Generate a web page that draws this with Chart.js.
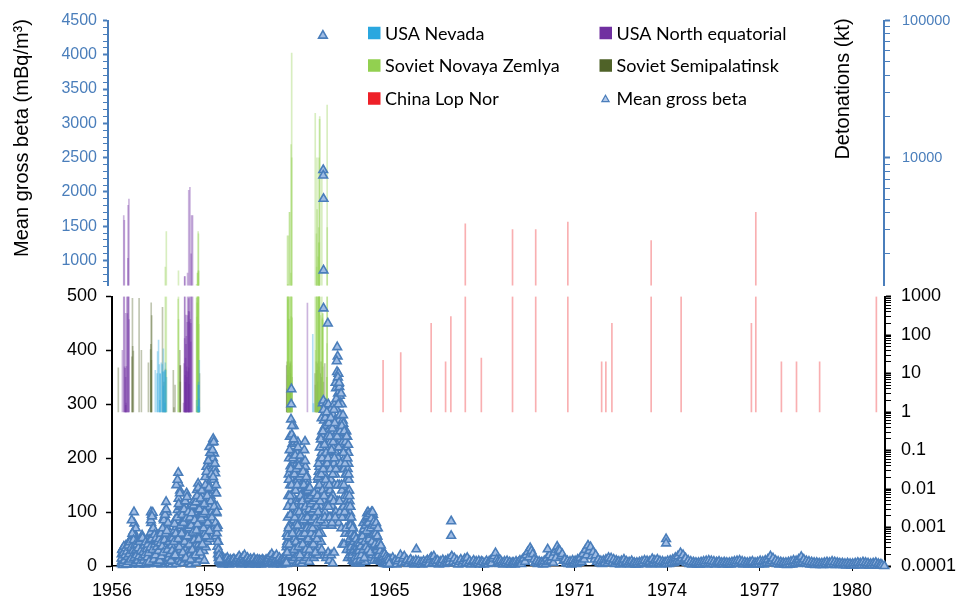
<!DOCTYPE html>
<html>
<head>
<meta charset="utf-8">
<script src="https://cdn.jsdelivr.net/npm/chart.js@4/dist/chart.umd.min.js"></script>
<style>
  html, body { margin: 0; padding: 0; background: #fff; }
  #wrap { position: relative; width: 958px; height: 598px; overflow: hidden; }
  canvas { position: absolute; left: 0; }
  #upper { top: 0; }
  #lower { top: 280px; }
</style>
</head>
<body>
<div id="wrap">
  <canvas id="upper" width="958" height="292"></canvas>
  <canvas id="lower" width="958" height="318"></canvas>
</div>
<script>
// ---------- Mean gross beta (mBq/m3); samples spread evenly through each block ----------
const beta1956 = [4,22,9,31,15,2,27,12,35,7,19,29,5, 25,11,38,3,20,33,8,16,40,13,28,6,23,
  18,44,7,30,12,50,24,3,38,15,46,10,27, 35,64,14,100,79,42,8,55,25,70,18,45,30,
  12,38,5,26,45,16,33,3,21,40,9,29,14, 35,8,50,22,57,15,42];
const beta1957 = [18,42,6,30,13,45,24,3,36,10,27,40,15, 8,33,20,48,4,26,38,12,44,17,29,7,35,
  62,100,80,25,95,45,10,99,70,30,55,15,40, 22,52,8,38,60,15,30,45,4,26,55,12,35,
  48,18,58,6,34,25,52,10,40,20,60,3,30, 44,14,65,28,88,7,50,100,35,72,18,58,24,
  119,73,40,100,12,58,30,8,47,22,55,36,5, 28,50,10,38,20,55,3,33,44,15,25,40,8];
const beta1958 = [30,65,10,48,85,22,55,4,38,72,16,60,26, 104,40,173,125,12,153,85,60,140,30,110,8,70,
  95,20,60,110,38,80,5,50,100,28,70,15,45, 88,30,119,55,135,12,96,70,25,104,45,8,75,
  65,20,100,42,80,3,58,105,30,72,14,50,90, 36,95,10,72,122,48,85,22,110,60,6,40,100,
  141,60,118,25,153,90,40,130,12,75,105,35,65, 120,50,95,18,130,70,38,110,85,28,100,55,10];
const beta1959a = [120,60,165,90,35,140,184,75,110,45,150,95,130, 196,80,150,221,110,50,175,130,205,65,160,100,190,
  229,120,200,236,160,70,209,140,180,100,172,135,55, 135,98,61,110,36,75,22,45,15,28,10,18,8];
const beta1959b = [12,5,9,14,3,8,11,6,13,4,9,7,15,5,10,3,8,12,6,9,4,11,7,13,5,8];
const beta1960 = [6,11,4,9,14,7,18,5,10,13,3,8,16,6,11,20,9,4,12,7,15,5,10,3,8,13,
  6,9,4,11,7,14,5,9,3,10,6,12,4,8,11,5,9,3,7,12,6,10,4,8,5,11];
const beta1961a = [7,12,4,9,14,6,18,10,5,22,8,13,3,16,9,6,11,20,7,4,12,8,15,5,10,3,9,13,6,11,4,8,14,6];
const beta1961b = [10,35,4,60,20,45,8,28, 90,15,130,55,170,5,200,75,110,35,240,150,20,185,60,120,
  272,95,328,40,244,160,10,227,130,70,209,190,25,150,260,85, 196,50,140,230,15,175,100,60,210,30,155,120,5,190,80];
const beta1962 = [210,45,160,95,230,20,180,120,65,200,140,8,110, 60,196,140,15,175,85,30,150,110,190,50,125,5,
  35,190,150,70,165,125,10,105,180,55,140,85,25, 100,231,55,184,140,25,170,90,15,130,160,45,75,
  150,40,130,75,110,20,145,65,95,8,120,55,135, 65,120,90,140,35,105,135,50,45,80,125,40,100,
  115,80,25,125,100,60,130,15,90,45,110,70,35, 95,120,45,110,70,135,30,100,60,140,20,85,125,
  140,55,160,90,20,175,120,150,80,184,35,130,105, 200,160,110,240,45,175,60,274,210,130,250,90,190,
  302,240,150,307,75,200,270,120,230,20,170,260,100, 80,260,180,300,15,220,150,280,110,240,20,195,135];
const beta1963 = [250,25,300,180,90,270,120,210,10,160,285,140,230, 90,290,160,20,260,200,75,240,130,280,110,5,220,
  130,280,80,250,190,25,300,150,230,100,270,170,210, 270,100,330,210,85,290,180,360,406,250,389,120,320,
  200,357,80,338,270,150,332,230,316,100,302,180,260, 280,190,260,70,240,300,140,220,40,180,270,110,210,
  264,110,246,180,40,233,200,130,90,220,60,170,250, 220,90,250,160,30,200,120,240,70,180,15,140,210,
  190,100,160,60,140,20,120,80,98,45,110,30,70, 80,40,65,15,55,75,25,50,10,60,35,70,20,
  60,20,45,8,55,30,40,12,50,25,35,5,42, 40,15,50,25,8,45,30,12,38,20,48,5,28];
const beta1964 = [35,10,50,22,5,45,28,15,40,8,30,48,18, 55,20,80,38,12,65,30,72,8,48,25,60,42,
  85,40,98,60,20,100,70,35,90,50,15,78,62, 90,55,75,30,100,45,85,20,65,95,38,70,10,
  85,50,65,25,78,40,60,20,70,35,55,12,45, 45,15,38,25,10,30,20,40,12,35,8,28,18,
  25,8,18,12,5,15,22,10,6,20,14,4,16, 12,5,9,4,14,7,11,3,10,6,13,5,8];
const beta1965 = [12,4,15,7,10,3,9,13,20,6,14,18,8,11,4,9,12,5,8,3,10,6,9,4];
const beta1966 = [7,3,9,5,8,11,4,12,16,6,18,9,5,10,3,8,6,11,4,9,5,12,7,14];
const beta1967 = [18,8,14,5,10,3,8,12,4,9,13,6,15,5,9,3,7,10,4,8,5,9,3,8];
const beta1968 = [7,3,6,9,4,8,10,5,14,18,24,12,8,4,10,6,3,8,5,9,4,7,3,6];
const beta1969 = [6,3,8,5,7,10,4,12,14,8,20,26,16,33,28,22,12,6,9,4,8,5,7,3];
const beta1970 = [9,4,14,8,20,10,16,6,25,15,36,30,28,18,22,10,12,5,9,4,8,3,10,6];
const beta1971 = [9,4,12,6,15,8,22,12,30,20,38,28,35,18,26,12,20,8,12,5,9,4,10,6];
const beta1972 = [12,5,15,9,14,6,12,4,10,7,8,3,9,5,12,6,8,4,7,3,9,5,6,3];
const beta1973 = [6,3,7,4,8,5,10,4,9,6,8,3,13,6,10,4,12,6,9,3,8,5,7,4];
const beta1974 = [9,4,10,5,12,6,15,8,18,10,24,14,20,12,14,6,10,4,8,3,7,4,6,3];
const beta1975 = [6,3,7,4,8,5,9,3,10,5,9,4,8,3,7,5,8,4,6,3,7,4,6,3];
const beta1976 = [6,3,7,4,8,5,9,4,10,5,8,3,7,4,6,3,7,5,8,3,6,4,7,3];
const beta1977 = [9,4,8,3,10,5,12,6,18,9,14,6,10,4,8,3,7,4,6,3,6,2,7,3];
const beta1978 = [8,3,10,5,9,4,12,6,17,8,12,5,9,4,8,3,7,3,6,2,6,3,5,2];
const beta1979 = [5,2,6,3,7,3,6,2,8,3,7,2,6,3,5,2,5,2,4,1,5,2,4,1];
const beta1980 = [4,1,5,2,6,2,5,1,7,2,6,2,5,1,4,1,5,2,6,1,4,1,3,1];
// additional readings taken in the busy periods
const beta1956x = [14,30,6,24,36,10,20,33,3,27,17,38,8, 22,44,12,34,85,60,28,48,15,38,6,30,20,
  40,10,33,18,45,5,28,50,16,52];
const beta1957x = [26,10,38,20,44,5,31,16,40,24,8,48,34, 85,50,92,30,70,12,58,40,20,52,35,6,45,
  28,50,10,42,60,18,36,70,25,85,48,95,60, 105,65,30,80,15,45,22,50,10,38,28,52,18];
const beta1958x = [45,78,20,60,150,90,160,50,115,35,135,75,100, 60,95,25,80,105,45,120,15,88,128,55,100,70,
  40,90,12,75,98,30,62,112,48,85,20,118,66, 130,78,145,50,105,25,125,88,140,40,96,70,115];
const beta1959x = [100,150,55,175,130,80,195,145,65,210,120,170,90, 215,165,230,110,190,80,150,100,70,45,30,20,12];
const beta1961x = [6,40,25,55,110,70,160,40,215,130,95,180,300,150,260,60,200,110,235,30,170,90,205,140,45,180,100];
const beta1962x = [150,75,220,35,185,100,165,20,205,130,55,170,90, 120,40,175,85,150,215,60,195,110,30,165,140,70,
  90,140,50,125,105,30,145,70,115,60,130,85,100, 70,120,40,105,135,55,90,25,125,80,110,50,130,
  165,100,190,60,150,220,120,85,235,170,30,200,140, 250,180,290,130,225,90,275,160,210,110,285,190,240];
const beta1963x = [200,110,265,150,90,240,180,275,125,215,80,255,170, 230,120,290,200,265,90,340,180,310,380,240,150,350,
  300,220,340,120,280,250,190,320,150,260,90,230,280, 210,150,250,100,190,230,70,170,240,130,200,110,225,
  170,90,130,50,110,75,35,90,60,20,70,45,55, 45,30,55,15,38,25,50,10,35,28,42,18,32];
const beta1964x = [28,42,12,36,20,48,55,30,68,15,45,75,35, 65,92,30,80,50,96,25,70,88,45,100,58,82,
  75,40,60,80,30,55,70,20,42,35,28,38,15, 20,10,16,6,22,12,8,18,5,14,9,11,4];
// isolated readings [decimal year, mBq/m3]
const betaSpikes = [[1962.84,4280],[1962.85,2320],[1962.85,2240],[1962.86,1900],[1962.86,857],[1962.86,478],
  [1963.0,450],[1965.87,31],[1967.0,83],[1967.0,56],[1970.13,31],[1973.97,50],[1973.97,42],[1981.05,0]];

// ---------- Atmospheric detonations [decimal year, yield kt] ----------
const usaNevada = [[1957.405,12],[1957.463,10],[1957.479,37],[1957.510,74],[1957.537,17],[1957.548,2],[1957.562,10],
  [1957.564,9.7],[1957.600,19],[1957.630,17],[1957.644,11],[1957.663,4.7],[1957.666,44],[1957.671,11],[1957.704,11],
  [1957.710,12],[1957.718,1.7],[1957.729,19],[1957.742,12],[1957.767,8],
  [1958.745,2],[1958.784,1.4],[1958.792,5],[1958.808,6],[1958.819,4.9],[1958.822,2.2],[1958.830,1.3],[1958.831,22],
  [1962.512,104],[1962.534,1.65]];
const usaEquatorial = [[1956.337,40],[1956.381,3800],[1956.400,3500],[1956.408,14.9],[1956.427,13.7],[1956.441,365],
  [1956.442,8],[1956.447,1.49],[1956.455,1.7],[1956.470,15.2],[1956.481,1100],[1956.500,360],[1956.516,1850],
  [1956.522,4500],[1956.549,5000],[1956.552,250],
  [1958.321,1.7],[1958.340,18],[1958.357,1360],[1958.358,81],[1958.360,1370],[1958.371,9],[1958.382,5.9],
  [1958.384,25.1],[1958.397,330],[1958.399,57],[1958.410,11.6],[1958.412,92],[1958.418,15],[1958.434,8],
  [1958.440,213],[1958.450,319],[1958.451,1450],[1958.462,11],[1958.486,412],[1958.487,880],[1958.489,5800],
  [1958.492,14],[1958.497,5.2],[1958.500,220],[1958.508,397],[1958.527,6100],[1958.541,255],[1958.555,65],
  [1958.556,202],[1958.566,2000],[1958.582,3800],[1958.613,3800],
  [1962.338,670]];
const sovietNovaya = [[1957.729,1600],[1957.762,2900],
  [1958.145,860],[1958.156,1500],[1958.158,250],[1958.745,1200],[1958.747,900],[1958.751,290],[1958.759,680],
  [1958.773,1450],[1958.778,1450],[1958.786,650],[1958.795,2900],[1958.797,40],[1958.800,1500],[1958.805,2800],
  [1958.811,1500],[1958.814,190],
  [1961.690,2700],[1961.696,1150],[1961.701,1200],[1961.707,830],[1961.712,1000],[1961.718,2700],[1961.723,260],
  [1961.751,250],[1961.756,4000],[1961.762,4000],[1961.767,15],[1961.800,1450],[1961.808,12500],[1961.814,300],
  [1961.819,16],[1961.827,58000],[1961.830,10000],[1961.841,280],
  [1962.592,21100],[1962.605,40],[1962.633,2800],[1962.638,1600],[1962.647,10000],[1962.652,4200],[1962.685,1900],
  [1962.704,3100],[1962.707,2400],[1962.712,1100],[1962.715,10000],[1962.721,2400],[1962.732,19100],[1962.737,20000],
  [1962.765,320],[1962.805,8200],[1962.819,260],[1962.825,360],[1962.827,280],[1962.833,240],[1962.838,360],
  [1962.962,8],[1962.967,8],[1962.973,60],[1962.978,24200],[1962.981,3100]];
const sovietSemipalatinsk = [[1956.205,14],[1956.647,27],[1956.663,900],[1956.671,51],[1956.693,38],[1956.879,900],
  [1956.953,40],
  [1957.181,19],[1957.252,42],[1957.260,57],[1957.271,680],[1957.277,22],[1957.288,320],[1957.638,520],
  [1957.685,6],[1957.734,13],[1957.989,12],
  [1958.008,1.3],[1958.044,5],[1958.200,40],[1958.208,16],[1958.214,6],[1958.216,16],[1958.838,10],
  [1961.666,16],[1961.675,4],[1961.680,20],[1961.699,9],[1961.710,12],[1961.729,20],[1961.748,15],[1961.759,6],
  [1961.778,18],[1961.789,10],[1961.797,20],[1961.838,8],
  [1962.585,10],[1962.600,5],[1962.630,20],[1962.641,12],[1962.660,18],[1962.690,6],[1962.699,20],[1962.718,15],
  [1962.751,10],[1962.780,20],[1962.800,8],[1962.830,15],[1962.852,6],[1962.900,18]];
const chinaLopNor = [[1964.792,22],[1965.364,35],[1966.351,200],[1966.819,20],[1966.990,300],[1967.458,3300],
  [1967.978,25],[1968.990,3000],[1969.742,3000],[1970.784,3400],[1971.880,20],[1972.017,20],[1972.213,200],
  [1973.486,2500],[1974.458,1000],[1976.737,200],[1976.880,4000],[1977.710,20],[1978.200,20],[1978.950,20],
  [1980.790,1000]];

const siteLabels = ['USA Nevada', 'USA North equatorial', 'Soviet Novaya Zemlya', 'Soviet Semipalatinsk', 'China Lop Nor'];
const siteData = [usaNevada, usaEquatorial, sovietNovaya, sovietSemipalatinsk, chinaLopNor];

// ---------- axis tick values ----------
const yearTicks = [1956, 1959, 1962, 1965, 1968, 1971, 1974, 1977, 1980];
const betaLowerTicks = [0, 100, 200, 300, 400, 500];
const betaUpperLabels = [1000, 1500, 2000, 2500, 3000, 3500, 4000, 4500];

// ---------- styling ----------
const siteColors = ['#2aa7df', '#7030a0', '#92d050', '#4f6228', '#ee2028'];
const BAR_ALPHA = 0.36;
const AXIS_BLUE = '#4a7ebb';
const MARK_EDGE = '#4a7ebb';
const MARK_FILL = '#9fbce4';
const FONT = '"Liberation Sans", Arial, Helvetica, sans-serif';
Chart.defaults.font.family = FONT;
Chart.defaults.font.size = 18;
Chart.defaults.color = '#000';

function rgba(hex, a) {
  const n = parseInt(hex.slice(1), 16);
  return `rgba(${(n >> 16) & 255},${(n >> 8) & 255},${n & 255},${a})`;
}

// assemble beta points
const betaBlocks = [
  [1956.30, 1957, beta1956], [1957, 1958, beta1957], [1958, 1959, beta1958],
  [1959, 1959.5, beta1959a], [1959.5, 1960, beta1959b], [1960, 1961, beta1960],
  [1961, 1961.65, beta1961a], [1961.65, 1962, beta1961b], [1962, 1963, beta1962],
  [1963, 1964, beta1963], [1964, 1965, beta1964], [1965, 1966, beta1965], [1966, 1967, beta1966],
  [1967, 1968, beta1967], [1968, 1969, beta1968], [1969, 1970, beta1969], [1970, 1971, beta1970],
  [1971, 1972, beta1971], [1972, 1973, beta1972], [1973, 1974, beta1973], [1974, 1975, beta1974],
  [1975, 1976, beta1975], [1976, 1977, beta1976], [1977, 1978, beta1977], [1978, 1979, beta1978],
  [1979, 1980, beta1979], [1980, 1981, beta1980],
  [1956.30, 1957, beta1956x], [1957, 1958, beta1957x], [1958, 1959, beta1958x], [1959, 1959.5, beta1959x],
  [1961.65, 1962, beta1961x], [1962, 1963, beta1962x], [1963, 1964, beta1963x], [1964, 1965, beta1964x]
];
const betaPoints = [];
betaBlocks.forEach(([a, b, vals]) => vals.forEach((v, i) => betaPoints.push({ x: a + (i + 0.5) * (b - a) / vals.length, y: v })));
betaSpikes.forEach(([x, y]) => betaPoints.push({ x, y }));

// shared horizontal mapping: lower plot spans x 112..885
const X_MIN = 1956, X_MAX = 1981.07;
const PX_PER_YEAR = (885 - 112) / (X_MAX - X_MIN);
const UP_X_MIN = X_MIN - (112 - 108) / PX_PER_YEAR;
const UP_X_MAX = X_MAX - (885 - 884) / PX_PER_YEAR;

function logTicks(min, max) {
  const out = [];
  for (let e = Math.floor(Math.log10(min)); e <= Math.ceil(Math.log10(max)); e++) {
    for (let m = 1; m <= 9; m++) {
      const v = Number((m * Math.pow(10, e)).toPrecision(6));
      if (v >= min * 0.999 && v <= max * 1.001) out.push({ value: v });
    }
  }
  return out;
}
function isDecade(v) { const l = Math.log10(v); return Math.abs(l - Math.round(l)) < 1e-9; }
function decadeLabel(v) {
  if (!isDecade(v)) return '';
  const e = Math.round(Math.log10(v));
  return e < 0 ? Math.pow(10, e).toFixed(-e) : String(Math.round(v));
}
// keep the plot edges where they are set; labels may overhang
function fixBox(w, h) {
  return s => {
    if (w !== null) s.width = w;
    if (h !== null) s.height = h;
    s.paddingTop = 0; s.paddingBottom = 0; s.paddingLeft = 0; s.paddingRight = 0;
  };
}

function barSets(low, base, capTop) {
  return siteData.map((list, i) => ({
    type: 'bar',
    label: siteLabels[i],
    legendColor: siteColors[i],
    yAxisID: 'yr',
    data: list.filter(d => d[1] > low).map(([x, kt]) => ({ x, y: [base, capTop ? Math.min(kt, capTop) : kt] })),
    backgroundColor: rgba(siteColors[i], BAR_ALPHA),
    borderWidth: 0,
    barThickness: 1,
    grouped: false,
    order: 2
  }));
}
function betaSet(filter) {
  return {
    type: 'scatter',
    label: 'Mean gross beta',
    yAxisID: 'yl',
    data: betaPoints.filter(filter),
    pointStyle: 'triangle',
    radius: 5,
    hoverRadius: 5,
    borderWidth: 1.6,
    borderColor: MARK_EDGE,
    backgroundColor: MARK_FILL,
    clip: false,
    order: 1
  };
}

// axis titles and two-column legend drawn on the upper panel
const LEGEND_X = [368, 599.5];
const LEGEND_Y = [33, 65.5, 98.5];
const decorations = {
  id: 'decorations',
  afterDraw(chart) {
    const ctx = chart.ctx;
    ctx.save();
    ctx.fillStyle = '#000';
    ctx.font = '20px ' + FONT;
    ctx.textAlign = 'center';
    ctx.textBaseline = 'middle';
    ctx.save(); ctx.translate(22, 138); ctx.rotate(-Math.PI / 2);
    ctx.fillText('Mean gross beta (mBq/m³)', 0, 0); ctx.restore();
    ctx.save(); ctx.translate(843, 89); ctx.rotate(-Math.PI / 2);
    ctx.fillText('Detonations (kt)', 0, 0); ctx.restore();

    ctx.textAlign = 'left';
    ctx.font = '18px Lato, "Open Sans", sans-serif';
    chart.data.datasets.forEach((ds, i) => {
      const bx = LEGEND_X[i % 2], cy = LEGEND_Y[Math.floor(i / 2)];
      if (ds.type === 'scatter') {
        ctx.fillStyle = '#b4c9e9'; ctx.strokeStyle = ds.borderColor; ctx.lineWidth = 1.2;
        Chart.helpers.drawPoint(ctx, { pointStyle: 'triangle', radius: 4.2, borderWidth: 1.2, rotation: 0 }, bx + 6, cy + 1);
      } else {
        ctx.fillStyle = ds.legendColor;
        ctx.fillRect(bx, cy - 6.25, 12.5, 12.5);
      }
      ctx.fillStyle = '#000';
      ctx.fillText(ds.label, bx + 17, cy + 1);
    });
    ctx.restore();
  }
};

// ---------- upper panel: 636..4500 mBq/m3, 1175..100000 kt ----------
new Chart(document.getElementById('upper'), {
  type: 'bar',
  data: { datasets: [...barSets(1000, 1000, 0), betaSet(p => p.y > 600)] },
  options: {
    responsive: false, animation: false, events: [],
    layout: { autoPadding: false, padding: { top: 20.5, bottom: 6.5, left: 0, right: 0 } },
    plugins: { legend: { display: false }, tooltip: { enabled: false } },
    scales: {
      x: { type: 'linear', display: false, offset: false, min: UP_X_MIN, max: UP_X_MAX },
      yl: {
        type: 'linear', position: 'left', min: 636, max: 4500,
        afterBuildTicks: s => { const t = []; for (let v = 700; v <= 4500; v += 100) t.push({ value: v }); s.ticks = t; },
        afterFit: fixBox(108, null),
        ticks: { autoSkip: false, color: AXIS_BLUE, padding: 6, font: { size: 16 }, callback: v => betaUpperLabels.includes(v) ? String(v) : '' },
        grid: { drawOnChartArea: false, color: AXIS_BLUE, tickLength: 5, tickWidth: c => (c.tick && c.tick.value % 500 === 0) ? 2 : 1 },
        border: { color: AXIS_BLUE, width: 2 }
      },
      yr: {
        type: 'logarithmic', position: 'right', min: 1175, max: 100000,
        afterBuildTicks: s => { s.ticks = logTicks(2000, 100000); },
        afterFit: fixBox(74, null),
        ticks: { autoSkip: false, color: AXIS_BLUE, padding: 12, font: { size: 14.5 }, callback: v => decadeLabel(v) },
        grid: { drawOnChartArea: false, color: AXIS_BLUE, tickLength: 6, tickWidth: c => (c.tick && isDecade(c.tick.value)) ? 2 : 1 },
        border: { color: AXIS_BLUE, width: 2 }
      }
    }
  },
  plugins: [decorations]
});

// ---------- lower panel: 0..500 mBq/m3, 0.0001..1000 kt ----------
new Chart(document.getElementById('lower'), {
  type: 'bar',
  data: { datasets: [...barSets(1, 1, 1000), betaSet(p => p.y <= 500)] },
  options: {
    responsive: false, animation: false, events: [],
    layout: { autoPadding: false, padding: { top: 16.5, bottom: 0, left: 0, right: 0 } },
    plugins: { legend: { display: false }, tooltip: { enabled: false } },
    scales: {
      x: {
        type: 'linear', position: 'bottom', offset: false, min: X_MIN, max: X_MAX,
        afterBuildTicks: s => { s.ticks = yearTicks.map(v => ({ value: v })); },
        afterFit: fixBox(null, 32),
        ticks: { autoSkip: false, maxRotation: 0, color: '#000', padding: 9, callback: v => String(v) },
        grid: { drawOnChartArea: false, offset: false, color: '#000', tickLength: 5 },
        border: { color: '#000', width: 1.5 }
      },
      yl: {
        type: 'linear', position: 'left', min: 0, max: 500,
        afterBuildTicks: s => { s.ticks = betaLowerTicks.map(v => ({ value: v })); },
        afterFit: fixBox(112, null),
        ticks: { autoSkip: false, color: '#000', padding: 9, callback: v => String(v) },
        grid: { drawOnChartArea: false, color: '#000', tickLength: 6, tickWidth: 1.5 },
        border: { color: '#000', width: 2 }
      },
      yr: {
        type: 'logarithmic', position: 'right', min: 0.0001, max: 1000,
        afterBuildTicks: s => { s.ticks = logTicks(0.0001, 1000); },
        afterFit: fixBox(73, null),
        ticks: { autoSkip: false, color: '#000', padding: 10, callback: v => decadeLabel(v) },
        grid: { drawOnChartArea: false, color: '#000', tickLength: 6, tickWidth: c => (c.tick && isDecade(c.tick.value)) ? 2 : 1 },
        border: { color: '#000', width: 2 }
      }
    }
  }
});
</script>
</body>
</html>
